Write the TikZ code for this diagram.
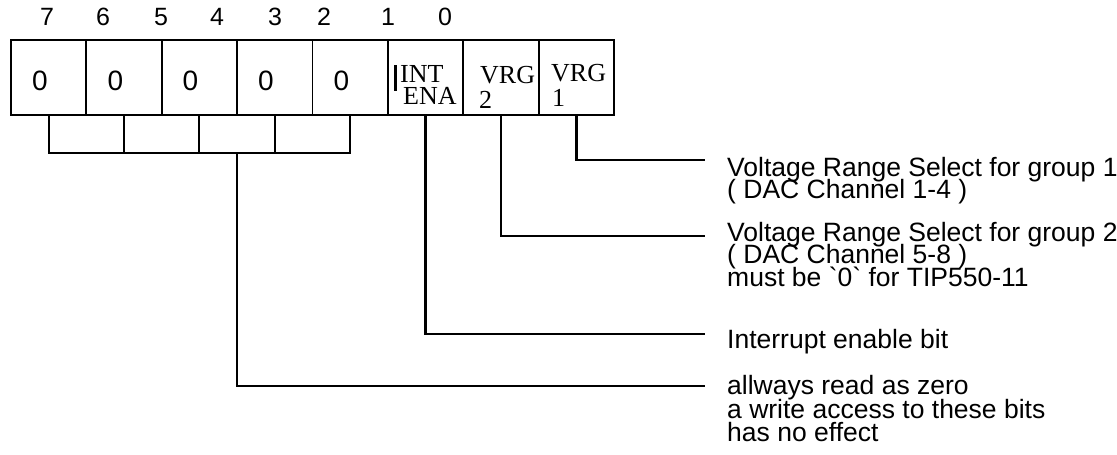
\documentclass[tikz,border=0pt]{standalone}
\usepackage{fontspec}
\setmainfont{Liberation Serif}
\newfontfamily\arial{Liberation Sans}
\newcommand\mytightlines{\lineskiplimit=-30pt\relax\lineskip=0pt\relax}
\begin{document}
\begin{tikzpicture}[x=1pt,y=-1pt,
  cell/.style={draw,line width=1.8pt,minimum width=75.375pt,minimum height=75pt,inner sep=0pt,outer sep=0pt},
  bitnum/.style={anchor=base,inner sep=0pt,font=\arial\fontsize{25}{25}\selectfont},
  zero/.style={anchor=base,inner sep=0pt,font=\arial\fontsize{28}{28}\selectfont},
  tm/.style={anchor=base west,inner sep=0pt,font=\fontsize{26}{26}\selectfont},
  desc/.style={anchor=base west,inner sep=0pt,align=left,
    font=\arial\fontsize{26.5}{22.5}\selectfont\mytightlines},
  conn/.style={line width=2.6pt,line cap=rect},
  brk/.style={line width=2pt,line cap=rect}]
\useasboundingbox (0,0) rectangle (1117,455);
% bit numbers
\node[bitnum] (b7) at (47,25) {7};
\node[bitnum] (b6) at (103,25) {6};
\node[bitnum] (b5) at (161,25) {5};
\node[bitnum] (b4) at (217,25) {4};
\node[bitnum] (b3) at (275,25) {3};
\node[bitnum] (b2) at (324,25) {2};
\node[bitnum] (b1) at (388,25) {1};
\node[bitnum] (b0) at (445,25) {0};
% cells
\node[cell] (c7) at (48.7,77.5) {};
\node[cell] (c6) at (124.1,77.5) {};
\node[cell] (c5) at (199.4,77.5) {};
\node[cell] (c4) at (274.8,77.5) {};
\node[cell] (c3) at (350.2,77.5) {};
\node[cell] (c2) at (425.6,77.5) {};
\node[cell] (c1) at (500.9,77.5) {};
\node[cell] (c0) at (576.3,77.5) {};
% cell texts
\node[zero] (z7) at (40,90.5) {0};
\node[zero] (z6) at (115.5,90.5) {0};
\node[zero] (z5) at (190.5,90.5) {0};
\node[zero] (z4) at (266,90.5) {0};
\node[zero] (z3) at (341.5,90.5) {0};
\node[tm] (int) at (400,82) {INT};
\node[tm] (ena) at (403,104) {ENA};
\node[tm] (vrgb) at (480,83) {VRG};
\node[tm] (vrgbn) at (479,108) {2};
\node[tm] (vrga) at (551,81) {VRG};
\node[tm] (vrgan) at (552,106) {1};
\coordinate (bartop) at (395.5,65);
\coordinate (barbot) at (395.5,91);
\draw[line width=3pt] (bartop) -- (barbot);
% bracket
\coordinate (bar) at (0,153);
\draw[brk] (c7.south) -- (c7.south |- bar) -- (c3.south |- bar) -- (c3.south);
\draw[brk] (c6.south) -- (c6.south |- bar);
\draw[brk] (c5.south) -- (c5.south |- bar);
\draw[brk] (c4.south) -- (c4.south |- bar);
% endpoints
\coordinate (e0) at (704,160);
\coordinate (e1) at (704,236);
\coordinate (e2) at (704,334);
\coordinate (e3) at (704,386);
\draw[conn] (c0.south) |- (e0);
\draw[conn] (c1.south) |- (e1);
\draw[conn] (c2.south) |- (e2);
\draw[line width=2pt,line cap=rect] (c5.south east |- bar) |- (e3);
% descriptions (base = baseline of the last line)
\node[desc] (d0) at (727,198.5) {Voltage Range Select for group 1\\( DAC Channel 1-4 )};
\node[desc] (d1) at (727,286) {Voltage Range Select for group 2\\( DAC Channel 5-8 )\\must be `0` for TIP550-11};
\node[desc] (d2) at (727,348) {Interrupt enable bit};
\node[desc] (d3) at (727,394) {allways read as zero};
\node[desc] (d4) at (727,441) {a write access to these bits\\has no effect};
\end{tikzpicture}
\end{document}
